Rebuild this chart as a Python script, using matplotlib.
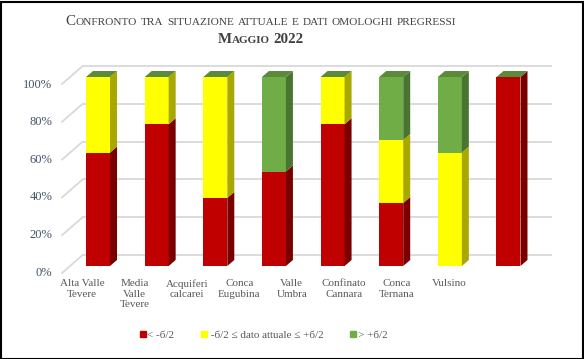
import matplotlib
matplotlib.use("Agg")
import matplotlib.pyplot as plt
from matplotlib.patches import Polygon, Rectangle
from matplotlib.lines import Line2D
import numpy as np

# dati
categorie = ["Alta Valle\nTevere", "Media\nValle\nTevere", "Acquiferi\ncalcarei",
             "Conca\nEugubina", "Valle\nUmbra", "Confinato\nCannara",
             "Conca\nTernana", "Vulsino"]
sotto = [0.60, 0.75, 0.36, 0.50, 0.75, 1/3, 0.0, 1.0]      # < -б/2
medio = [0.40, 0.25, 0.64, 0.0, 0.25, 1/3, 0.60, 0.0]      # -б/2 <= x <= +б/2
sopra = [0.0, 0.0, 0.0, 0.50, 0.0, 1/3, 0.40, 0.0]         # > +б/2
nomi_serie = ["< -б/2", " -б/2 \u2264 dato attuale \u2264 +б/2", "> +б/2"]
tick_y = [0, 0.2, 0.4, 0.6, 0.8, 1.0]
tick_y_lab = ["0%", "20%", "40%", "60%", "80%", "100%"]

col_fronte = ["#C00000", "#FFFF00", "#70AD47"]
col_lato = ["#7A0000", "#A8A800", "#4A7530"]
col_top = "#5B8A3A"

W, H = 584, 359
fig = plt.figure(figsize=(W / 100, H / 100), dpi=100)
plt.rcParams['font.family'] = ['Liberation Serif', 'DejaVu Serif']

def px(x0, y0, x1, y1):
    # rettangolo in pixel (dall'alto) -> coordinate figura
    return [x0 / W, (H - y1) / H, (x1 - x0) / W, (y1 - y0) / H]

ax = fig.add_axes(px(68.7, 77, 537.8, 266))
ax.set_xlim(-0.5, 7.5)
ax.set_ylim(0, 1)
ax.axis("off")

# profondita' in unita' dati
ux = 58.64
uy = 189.0
bdx, bdy = 7 / ux, 6 / uy          # spessore barre
wdx, wdy = 14 / ux, 11 / uy        # parete di fondo
fdx, fdy = -6.7 / ux, -7 / uy      # bordo anteriore pavimento

for t in tick_y:
    ax.plot([-0.5 + wdx, 7.5 + wdx], [t + wdy, t + wdy], color="#D9D9D9", lw=1.3,
            zorder=1, clip_on=False, solid_capstyle="butt")
    ax.plot([-0.5 + fdx, -0.5 + wdx], [t + fdy, t + wdy], color="#D9D9D9", lw=1.3,
            zorder=1, clip_on=False)

bw = 24 / ux
x = np.arange(len(categorie))
serie = [sotto, medio, sopra]
for i in x:
    base = 0.0
    x0, x1 = i - bw / 2, i + bw / 2
    for s, vals in enumerate(serie):
        v = vals[i]
        if v <= 0:
            continue
        ax.bar(i, v, bottom=base, width=bw, color=col_fronte[s], zorder=3)
        ax.add_patch(Polygon([[x1, base], [x1 + bdx, base + bdy],
                              [x1 + bdx, base + v + bdy], [x1, base + v]],
                             closed=True, color=col_lato[s], zorder=3, clip_on=False, lw=0))
        base += v
    ax.add_patch(Polygon([[x0, base], [x1, base], [x1 + bdx, base + bdy], [x0 + bdx, base + bdy]],
                         closed=True, color=col_top, zorder=3, clip_on=False, lw=0))

# etichette assi
axl = fig.add_axes(px(55.8, 83, 475.2, 271))
axl.set_xlim(-0.5, 7.5)
axl.set_ylim(0, 1)
axl.patch.set_visible(False)
for sp in axl.spines.values():
    sp.set_visible(False)
axl.set_xticks(x)
axl.set_xticklabels(categorie, fontsize=8, color="#595959", linespacing=1.2)
axl.set_yticks(tick_y)
axl.set_yticklabels(tick_y_lab, fontsize=9, color="#44546A")
axl.tick_params(length=0)
axl.tick_params(axis="x", pad=6)
axl.tick_params(axis="y", pad=2.5)

# titolo in maiuscoletto
renderer = fig.canvas.get_renderer()

def maiuscoletto(testo, xc, yb, big, small, weight):
    parole = testo.split(" ")
    oggetti = []
    for p_i, parola in enumerate(parole):
        runs = []
        for ch in parola:
            sz = small if ch.islower() else big
            if runs and runs[-1][1] == sz:
                runs[-1][0] += ch.upper()
            else:
                runs.append([ch.upper(), sz])
        for r in runs:
            t = fig.text(0, yb, r[0], fontsize=r[1], fontweight=weight, color="#404040",
                         va="baseline", ha="left")
            oggetti.append((t, p_i))
    gap = big * 100 / 72 * 0.25
    larg = []
    for t, p_i in oggetti:
        larg.append(t.get_window_extent(renderer).width)
    n_gap = len(parole) - 1
    tot = sum(larg) + gap * n_gap
    cur = xc - tot / 2
    prev = 0
    for (t, p_i), w in zip(oggetti, larg):
        if p_i != prev:
            cur += gap
            prev = p_i
        t.set_x(cur / W)
        cur += w

maiuscoletto("Confronto tra situazione attuale e dati omologhi pregressi", 261, (H - 25) / H, 10.8, 8.1, "normal")
maiuscoletto("Maggio 2022", 261, (H - 43) / H, 10.8, 8, "bold")

# legenda
handles = [Line2D([], [], ls="", marker="s", markersize=3.8, color=c) for c in col_fronte]
fig.legend(handles, nomi_serie, loc="center", bbox_to_anchor=(263.5 / W, (H - 335) / H),
           ncol=3, frameon=False, fontsize=8, labelcolor="#595959", handlelength=0.5,
           handletextpad=0.15, columnspacing=2.4)

fig.add_artist(Rectangle((0.5 / W, 0.5 / H), 1 - 2 / W, 1 - 2 / H, transform=fig.transFigure,
                         fill=False, edgecolor="black", lw=1.5))

fig.savefig("out.png", dpi=100)
